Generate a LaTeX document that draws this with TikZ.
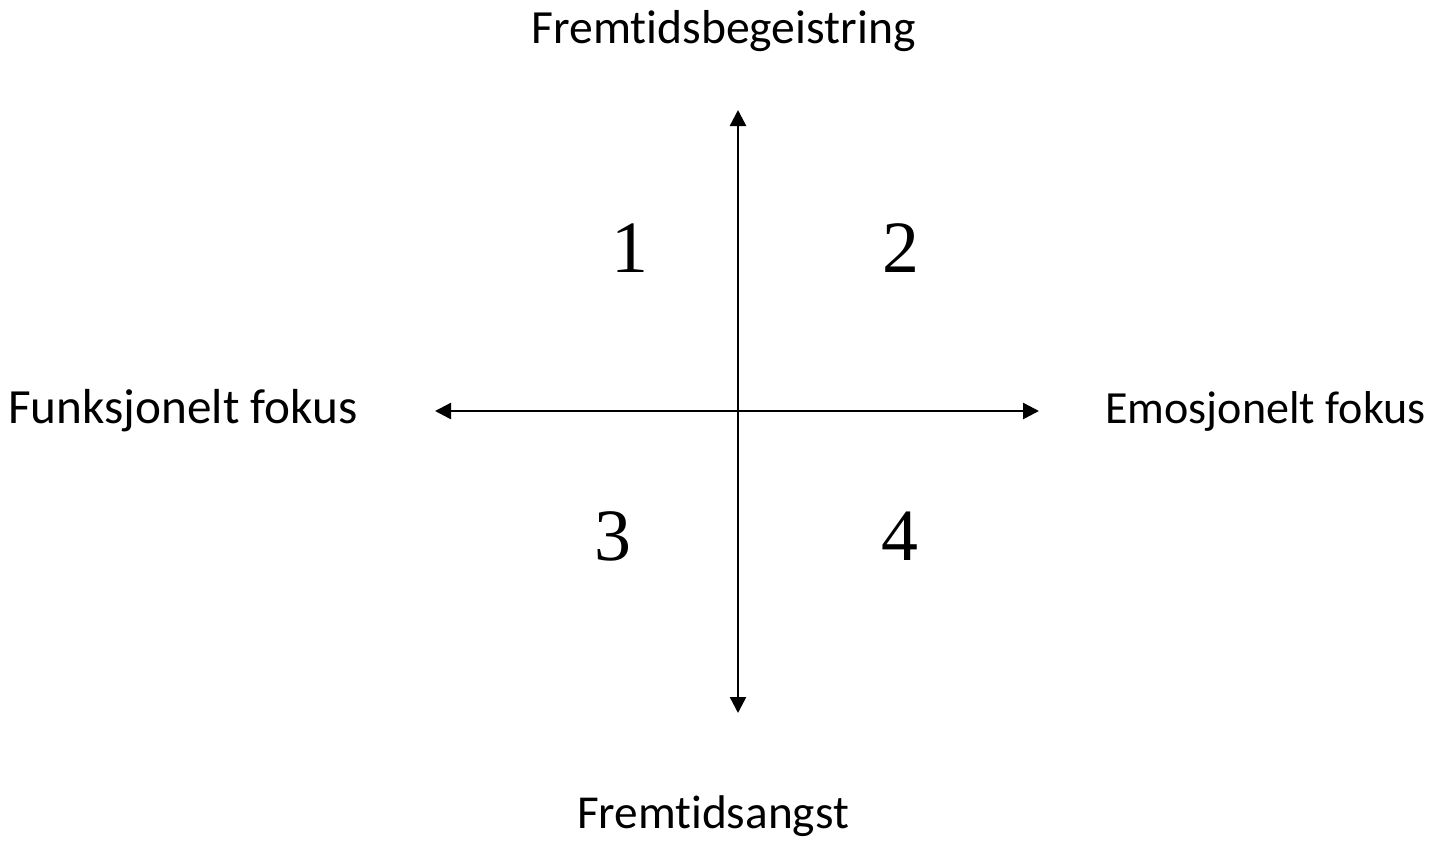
\documentclass[tikz,border=0pt]{standalone}
\usepackage{fontspec}
\setmainfont{Carlito}[Ligatures=NoCommon]
\newfontfamily\tallfont{Liberation Serif}
\usepackage{tikz}
\usetikzlibrary{arrows.meta, positioning}
\tikzset{
  etikett/.style={inner sep=0pt, font=\fontsize{28}{32}\selectfont, text=black},
  tall/.style={inner sep=0pt, anchor=base, font=\tallfont\fontsize{42}{46}\selectfont, text=black},
  akse/.style={{Triangle[length=0.32cm, width=0.32cm]}-{Triangle[length=0.32cm, width=0.32cm]},
               line width=1.4pt, black},
}

\begin{document}
\begin{tikzpicture}
  \useasboundingbox (0,0) rectangle (28.84,-16.8);
  \coordinate (O) at (14.76,-8.22);
  \coordinate (topp) at (14.76,-2.2);
  \coordinate (bunn) at (14.76,-14.26);
  \coordinate (venstre) at (8.7,-8.22);
  \coordinate (hoyre) at (20.78,-8.22);
  \draw[akse] (bunn) -- (topp);
  \draw[akse] (venstre) -- (hoyre);
  \node[etikett, anchor=base, font=\fontsize{27.1}{31}\selectfont] (B) at (14.47,-0.86) {Fremtidsbegeistring};
  \node[etikett, anchor=base, font=\fontsize{26.9}{31}\selectfont] (A) at (14.26,-16.56) {Fremtidsangst};
  \node[etikett, anchor=base west] (F) at (0.16,-8.46) {Funksjonelt fokus};
  \node[etikett, anchor=base west, font=\fontsize{26.2}{30}\selectfont] (E) at (22.1,-8.46) {Emosjonelt fokus};
  \node[tall] (q1) at (12.6,-5.44) {1};
  \node[tall] (q2) at (18.02,-5.44) {2};
  \node[tall] (q3) at (12.26,-11.2) {3};
  \node[tall] (q4) at (18.0,-11.2) {4};
\end{tikzpicture}
\end{document}
